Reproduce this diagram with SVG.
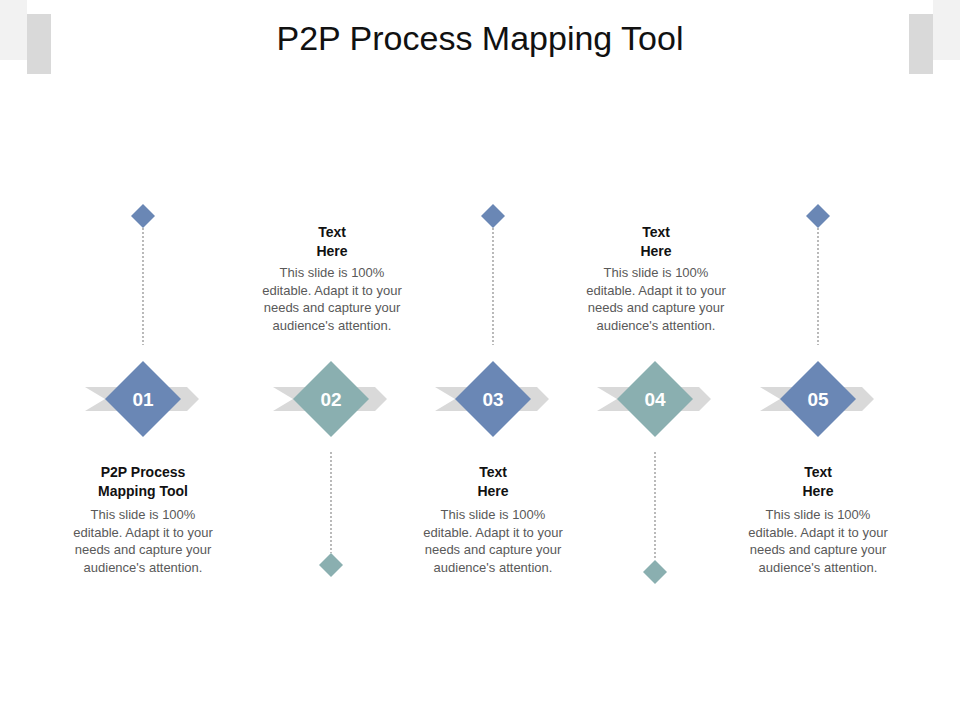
<svg xmlns="http://www.w3.org/2000/svg" width="960" height="720" viewBox="0 0 960 720">
<style>
.t{font-family:"Liberation Sans",Arial,sans-serif;text-anchor:middle}
.h{font-size:14px;font-weight:bold;fill:#111}
.b{font-size:13px;fill:#595959}
.n{font-size:19px;font-weight:bold;fill:#fff}
.chev{fill:#d9d9d9}
.blue{fill:#6a87b5}
.teal{fill:#8aafb0}
.dl{stroke:#8c8c8c;stroke-width:1.2;stroke-dasharray:2 2;fill:none}
</style>
<defs>
<polygon id="ch" points="-58,-12 56,-12 58,0 56,12 -58,12 -38,0"/>
<polygon id="ch2" points="-58,-12 44,-12 56,0 44,12 -58,12 -38,0"/>
<polygon id="bd" points="0,-38 38,0 0,38 -38,0"/>
<polygon id="sd" points="0,-12 12,0 0,12 -12,0"/>
</defs>
<rect width="960" height="720" fill="#fff"/>
<rect x="0" y="0" width="27" height="60" fill="#f2f2f2"/>
<rect x="27" y="14" width="24" height="60" fill="#d9d9d9"/>
<rect x="933" y="0" width="27" height="60" fill="#f2f2f2"/>
<rect x="909" y="14" width="24" height="60" fill="#d9d9d9"/>
<text class="t" x="480" y="50" font-size="34" fill="#111">P2P Process Mapping Tool</text>
<g id="connectors">
<line class="dl" x1="143" y1="228" x2="143" y2="345"/>
<line class="dl" x1="493" y1="228" x2="493" y2="345"/>
<line class="dl" x1="818" y1="228" x2="818" y2="345"/>
<line class="dl" x1="331" y1="452" x2="331" y2="553"/>
<line class="dl" x1="655" y1="452" x2="655" y2="560"/>
</g>
<g id="step1">
<use href="#ch2" x="143" y="399" class="chev"/><use href="#bd" x="143" y="399" class="blue"/>
<text class="t n" x="143" y="406">01</text>
<use href="#sd" x="143" y="216" class="blue"/>
<text class="t h" x="143" y="477">P2P Process</text><text class="t h" x="143" y="496">Mapping Tool</text>
<text class="t b" x="143" y="519">This slide is 100%</text><text class="t b" x="143" y="537">editable. Adapt it to your</text><text class="t b" x="143" y="554">needs and capture your</text><text class="t b" x="143" y="572">audience's attention.</text>
</g>
<g id="step2">
<use href="#ch2" x="331" y="399" class="chev"/><use href="#bd" x="331" y="399" class="teal"/>
<text class="t n" x="331" y="406">02</text>
<use href="#sd" x="331" y="565" class="teal"/>
<text class="t h" x="332" y="237">Text</text><text class="t h" x="332" y="256">Here</text>
<text class="t b" x="332" y="277">This slide is 100%</text><text class="t b" x="332" y="295">editable. Adapt it to your</text><text class="t b" x="332" y="312">needs and capture your</text><text class="t b" x="332" y="330">audience's attention.</text>
</g>
<g id="step3">
<use href="#ch2" x="493" y="399" class="chev"/><use href="#bd" x="493" y="399" class="blue"/>
<text class="t n" x="493" y="406">03</text>
<use href="#sd" x="493" y="216" class="blue"/>
<text class="t h" x="493" y="477">Text</text><text class="t h" x="493" y="496">Here</text>
<text class="t b" x="493" y="519">This slide is 100%</text><text class="t b" x="493" y="537">editable. Adapt it to your</text><text class="t b" x="493" y="554">needs and capture your</text><text class="t b" x="493" y="572">audience's attention.</text>
</g>
<g id="step4">
<use href="#ch2" x="655" y="399" class="chev"/><use href="#bd" x="655" y="399" class="teal"/>
<text class="t n" x="655" y="406">04</text>
<use href="#sd" x="655" y="572" class="teal"/>
<text class="t h" x="656" y="237">Text</text><text class="t h" x="656" y="256">Here</text>
<text class="t b" x="656" y="277">This slide is 100%</text><text class="t b" x="656" y="295">editable. Adapt it to your</text><text class="t b" x="656" y="312">needs and capture your</text><text class="t b" x="656" y="330">audience's attention.</text>
</g>
<g id="step5">
<use href="#ch2" x="818" y="399" class="chev"/><use href="#bd" x="818" y="399" class="blue"/>
<text class="t n" x="818" y="406">05</text>
<use href="#sd" x="818" y="216" class="blue"/>
<text class="t h" x="818" y="477">Text</text><text class="t h" x="818" y="496">Here</text>
<text class="t b" x="818" y="519">This slide is 100%</text><text class="t b" x="818" y="537">editable. Adapt it to your</text><text class="t b" x="818" y="554">needs and capture your</text><text class="t b" x="818" y="572">audience's attention.</text>
</g>
</svg>
